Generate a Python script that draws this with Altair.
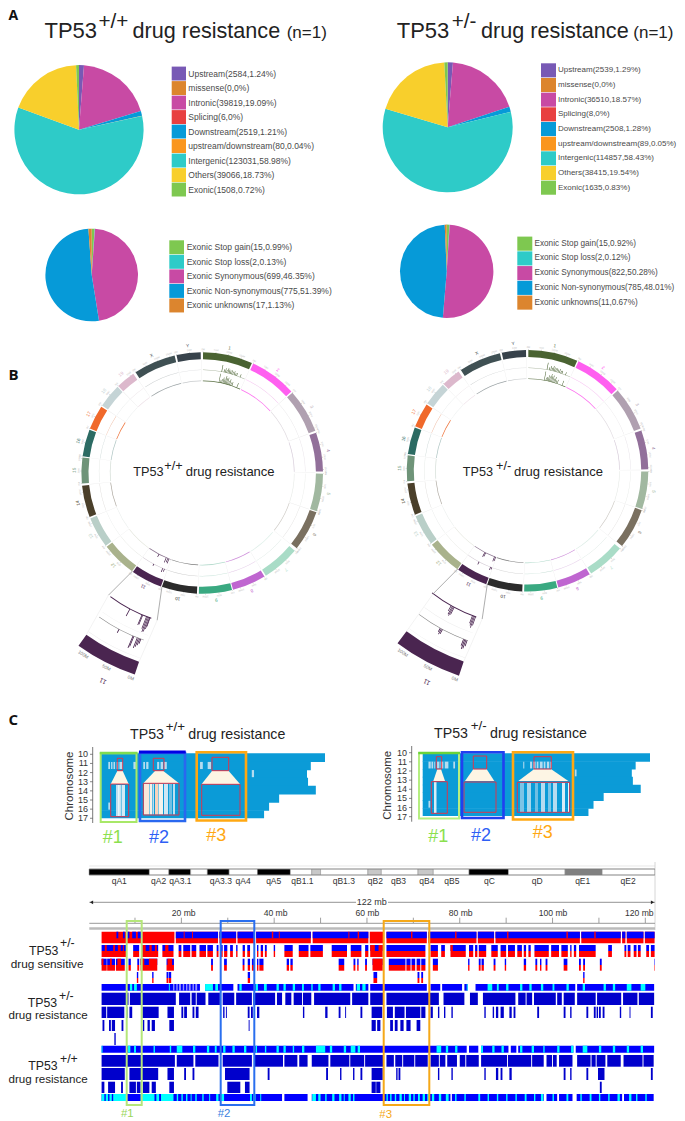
import math
import altair as alt
import pandas as pd

# ---------- panel A values ----------
GENO_NAMES = ["Upstream", "missense", "Intronic", "Splicing", "Downstream",
              "upstream/downstream", "Intergenic", "Others", "Exonic"]
GENO_COLORS = ["#7859b5", "#dc852e", "#c84aa4", "#e84040", "#069ad8",
               "#fa961e", "#2ecbc8", "#f8cf2c", "#7ec850"]
WT_GENO = [2584, 0, 39819, 6, 2519, 80, 123031, 39066, 1508]
WT_GENO_PCT = ["1.24", "0", "19.09", "0", "1.21", "0.04", "58.98", "18.73", "0.72"]
HET_GENO = [2539, 0, 36510, 8, 2508, 89, 114857, 38415, 1635]
HET_GENO_PCT = ["1.29", "0", "18.57", "0", "1.28", "0.05", "58.43", "19.54", "0.83"]

EXO_NAMES = ["Exonic Stop gain", "Exonic Stop loss", "Exonic Synonymous",
             "Exonic Non-synonymous", "Exonic unknowns"]
EXO_COLORS = ["#7ec850", "#2ecbc8", "#c84aa4", "#069ad8", "#dc852e"]
WT_EXO = [15, 2, 699, 775, 17]
WT_EXO_PCT = ["0.99", "0.13", "46.35", "51.39", "1.13"]
HET_EXO = [15, 2, 822, 785, 11]
HET_EXO_PCT = ["0.92", "0.12", "50.28", "48.01", "0.67"]

# ---------- panel B values ----------
CHR_NAMES = [str(i) for i in range(1, 20)] + ["X", "Y"]
CHR_LEN = [195, 182, 160, 157, 152, 150, 145, 130, 125, 131, 122, 120, 120, 125, 104, 98, 95, 91, 61, 171, 92]
CHR_START = [0.4, 25, 48.3, 70.5, 90.3, 109, 130, 149, 165.7, 182.5, 200, 215.5, 233, 248.7, 265, 278, 291.6, 304, 316, 326.5, 347.7]
CHR_END = [24.3, 47.6, 69.5, 89.3, 108.4, 128.5, 148.2, 165.2, 181.6, 199.5, 215, 232.3, 247.9, 264, 277.4, 291, 303.3, 315.5, 325.2, 346.8, 359.3]
CHR_COLORS = ["#4a6332", "#ff5ff0", "#b0a0b0", "#92709a", "#a1b8a0", "#7a7060", "#a9dcc7",
              "#bf66d0", "#3aa981", "#2b2b2b", "#4a2550", "#a9b28c", "#b9cfc8", "#4a3f2a",
              "#6f9479", "#2c6b63", "#f0692b", "#c5d4d6", "#dcb8cc", "#3f5053", "#37424b"]
# arc visibility of the two inner tracks, per chromosome
CHR_INNER_OP = [.9, .9, .3, .3, .15, .3, .3, .7, .35, .6, .6, .2, .15, .4, .25, .35, .9, .1, .35, .5, .25]
CHR_OUTER_OP = [.4, .3, .1, .1, .1, .1, .2, .25, .2, .15, .2, .1, .1, .1, .1, .15, .35, .1, .15, .2, .1]
CHR1_OUT = [(10.9, 103, 110), (12.2, 103, 106), (13, 103, 107.5), (13.7, 103, 106), (14.4, 103, 108), (15.1, 103, 107),
            (15.8, 103, 106.5), (16.5, 103, 107), (17.2, 103, 106), (18, 103, 107), (18.8, 103, 105.5), (19.5, 103, 106), (21.6, 103, 106)]
CHR1_IN = [(10.5, 92, 101), (11.5, 92, 95), (12.2, 92, 96), (13, 92, 98), (13.7, 92, 97), (14.4, 92, 100), (15.1, 92, 98),
           (15.8, 92, 99), (16.5, 92, 96), (17.2, 92, 98), (18, 92, 95), (18.8, 92, 96), (22, 92, 97)]
WT_11_RING = [(208, 92, 95), (203, 92, 97), (202, 92, 96), (201.2, 92, 97), (208, 103, 105), (202.5, 103, 107), (201.5, 103, 106)]
HET_11_RING = [(207.6, 92, 97), (207, 92, 96), (201, 92, 97), (200.3, 92, 96), (208, 103, 106), (201, 103, 106), (200.3, 103, 105)]
WT_11_ZOOM = [(208, 154, 162), (203, 154, 165), (202.7, 154, 164), (201.2, 154, 167), (200.8, 154, 170), (200.4, 154, 169),
              (200, 154, 166), (199.8, 154, 163), (208, 177, 181), (203, 177, 190), (202.7, 177, 188),
              (201.5, 177, 188), (201.1, 177, 186), (200.7, 177, 184), (200.3, 177, 182)]
HET_11_ZOOM = [(209.5, 155, 161), (209, 155, 164), (208.6, 155, 165), (208.2, 155, 163), (200.8, 155, 163), (200.4, 155, 165),
               (200, 155, 167), (199.6, 155, 164), (209, 180, 184), (208.6, 180, 186), (208.2, 180, 185),
               (200.8, 180, 187), (200.4, 180, 190), (200, 180, 189), (199.6, 180, 186)]

# ---------- panel C heat map values ----------
CHROMS = ["10", "11", "12", "13", "14", "15", "16", "17"]
CHROM_MB = [130, 121.8, 119.6, 120.2, 124.7, 103.5, 97.7, 94.8]
WT_STRIPES = [("11", 4.8, 5.8), ("11", 6.4, 7.2), ("11", 7.8, 8.7), ("11", 9.6, 10.6), ("11", 11.2, 13.1), ("11", 19.3, 20.8),
              ("11", 25, 26), ("11", 26.7, 28), ("11", 33, 34.2), ("11", 35, 36.4), ("11", 37, 38.6), ("11", 57.8, 59.4),
              ("11", 62.2, 64.2), ("12", 87.7, 89), ("16", 4.8, 5.8)]
HET_STRIPES = [("11", 3.3, 4.6), ("11", 5, 6), ("11", 6.6, 7.2), ("11", 8.2, 9.6), ("11", 10.2, 11.8), ("11", 12.6, 14.7),
               ("11", 17.5, 18.5), ("11", 57.5, 58.1), ("11", 61.4, 62.6), ("11", 63.2, 64.6), ("11", 65.2, 66.2),
               ("11", 67, 68.6), ("11", 69.2, 70.2), ("11", 71, 72.4), ("11", 73, 73.8), ("12", 87, 88), ("16", 3.3, 4.3)]

# ---------- panel C genome browser values (Mb) ----------
BANDS = [(0.1, 13.1, "#000000"), (13.1, 17.3, "#ffffff"), (17.3, 22, "#000000"), (22, 25.6, "#ffffff"), (25.6, 30.3, "#000000"),
         (30.3, 36.4, "#ffffff"), (36.4, 43.5, "#000000"), (43.5, 48.1, "#ffffff"), (48.1, 50, "#c8c8c8"), (50, 60.2, "#ffffff"),
         (60.2, 63.1, "#c8c8c8"), (63.1, 71, "#ffffff"), (71, 74.3, "#c8c8c8"), (74.3, 82, "#ffffff"), (82, 90.5, "#000000"),
         (90.5, 102.7, "#ffffff"), (102.7, 110.7, "#808080"), (110.7, 122, "#ffffff")]
BAND_LABELS = ["qA1", "qA2", "qA3.1", "qA3.3", "qA4", "qA5", "qB1.1", "qB1.3", "qB2", "qB3", "qB4", "qB5", "qC", "qD", "qE1", "qE2"]
BAND_LABEL_MB = [6.6, 15.1, 19.8, 28.5, 33.3, 39.9, 46.1, 55, 61.8, 66.8, 72.9, 78.3, 86.4, 96.7, 106.5, 116.3]
TICKS_MB = list(range(10, 130, 10))
TICK_LABELS = ["20 mb", "40 mb", "60 mb", "80 mb", "100 mb", "120 mb"]
TICK_LABEL_MB = [20.5, 40.3, 60.1, 80.2, 100.1, 118.7]

S1_RED = [(2.8, 18.5), (18.8, 27.9), (28.2, 31.8), (32.1, 35.8), (36.1, 47.9), (48.3, 60.3), (60.6, 63.7), (64.2, 72.9), (73.2, 83.6),
          (83.9, 87.4), (87.7, 105.9), (106.2, 114.7), (115, 115.7), (116, 119.6), (119.9, 122)]
S1_BLUE = [(6, 6.4), (7.4, 7.8), (8.3, 8.8), (9.4, 10.2), (10.6, 11.4), (18.8, 27.9), (28.2, 31.8), (32.1, 35.8), (36.1, 47.9), (48.3, 60.3),
           (64.2, 72.9), (73.2, 83.6), (83.9, 87.4), (87.7, 105.9), (106.2, 114.7), (115, 115.7), (116, 119.6), (119.9, 122)]
S1_RED_TICKS = [(20.5, 20.7), (22.3, 22.5), (39.5, 39.8), (41, 41.2), (56, 56.2), (58, 58.3), (69.5, 69.8), (79, 79.3), (90.2, 90.5), (103, 103.3), (109, 109.3)]
S2 = [(2.8, 8.1), (9.6, 10.9), (11.4, 15), (15.9, 18.3), (19.4, 20), (20.4, 21.9), (22.2, 23.2), (23.9, 25.3), (25.6, 26.8), (27.6, 28), (28.5, 28.9),
      (29.2, 29.9), (30.5, 31.1), (31.8, 32.1), (33.2, 33.7), (34.2, 34.8), (36.3, 36.6), (37.1, 37.6), (38, 38.4), (39.9, 40.2), (42.2, 44),
      (45.3, 47.4), (47.8, 50.5), (52.4, 55.7), (56.5, 58.8), (59.6, 60.3), (60.7, 63.4), (64.2, 72.6), (73.7, 75.3), (76, 76.8), (78, 81.3),
      (82, 82.9), (83.3, 83.8), (84.1, 85.7), (86.8, 88.2), (88.8, 90), (90.4, 91.9), (92.4, 93.4), (93.8, 94.3), (94.8, 95.3), (96.1, 99.2),
      (99.7, 101.4), (101.9, 103.3), (103.8, 104.1), (104.6, 105.1), (105.7, 109.3), (112, 112.8), (115.5, 115.9), (116.2, 116.8), (117.5, 118.1),
      (118.4, 119), (120.2, 120.8), (121.2, 122)]
S2_RED_TOP = [(3.5, 3.9), (5.3, 5.7), (6.3, 6.9), (7.4, 7.6), (11.6, 12.3), (13.1, 13.6), (14.3, 14.7), (16.5, 17.2), (60.7, 61.7), (62.5, 63.4), (78, 78.5)]
S3 = [(2.8, 3.9), (4, 5.7), (5.9, 7.8), (8.6, 9.1), (10.5, 10.9), (11.2, 14.8), (16.8, 18.4), (26.4, 26.8), (29.2, 29.8), (33.2, 33.6), (34.3, 34.8),
      (35.2, 35.7), (36.3, 36.6), (36.8, 37.7), (42.7, 43.2), (43.5, 44), (53.9, 55.1), (57.1, 57.5), (57.9, 58.2), (59.6, 60), (61.2, 63.4),
      (64.7, 68.3), (68.5, 69.4), (69.6, 70.4), (70.7, 71.5), (71.7, 72.6), (74.2, 75.3), (81.8, 82.1), (84.1, 84.5), (84.7, 85.2), (87.3, 87.7),
      (89.7, 90), (93.8, 94.3), (96.3, 96.7), (97.3, 97.6), (98.5, 98.9), (102.4, 103.2), (105.7, 106.1), (106.6, 107), (110.2, 110.6), (121.9, 122)]
S3_RED_TOP = [(2.8, 3.2), (4.6, 5), (6.2, 7), (11.2, 12), (13, 14.8), (17, 18), (61.2, 63.4)]
S4 = [(10.4, 10.7), (13.7, 14), (16.8, 17.2), (17.3, 17.8), (34.3, 34.8), (61.4, 62.2), (70.9, 71.3), (71.7, 72.1), (106.6, 106.9)]

H1 = [(2.8, 24), (25.1, 31.2), (32.1, 57.1), (57.6, 60.3), (60.7, 72.9), (73.7, 75.8), (76.2, 80.5), (81, 81.7), (83.4, 104.9), (105.3, 121.9)]
H1_CYAN = [(8.9, 9.4), (9.8, 10.4), (17.3, 17.5), (25.1, 26.8), (27.3, 27.9), (32.5, 33), (36, 36.5), (37.8, 38.4), (40.5, 41), (42, 42.5), (44, 44.5),
           (46, 46.4), (48, 48.3), (49.5, 50), (52.6, 53.1), (54, 54.5), (57.8, 58.5), (59, 59.7), (81.5, 81.7), (86, 87), (88, 88.4), (90, 90.5), (93, 93.5),
           (95, 95.5), (97.5, 98), (100, 100.4), (103, 103.5), (106.5, 107), (111, 111.5), (113, 113.5), (116, 117), (119, 120)]
H1_PALE = [(18.2, 18.5), (18.9, 19.2), (19.5, 19.9), (20.3, 20.6), (21, 21.3), (21.6, 22), (22.4, 22.7), (23, 23.4)]
H2 = [(2.8, 8.6), (8.9, 18.8), (19.5, 21.9), (22.2, 23.1), (23.3, 25.2), (25.8, 28.3), (28.9, 31.4), (31.8, 35.2), (35.5, 40.2), (40.6, 41.7),
      (42.4, 43.7), (44.2, 46), (46.2, 48), (48.6, 56.4), (56.8, 60.3), (60.7, 63.5), (64.2, 75.5), (76.5, 81), (82.2, 83.9), (85, 92), (92.6, 94.2),
      (94.4, 95.6), (96, 100.7), (101, 102), (102.4, 104.8), (105.3, 109.3), (109.6, 114.8), (115.2, 118.3), (118.6, 121.9)]
H3 = [(2.8, 3.8), (4, 7.7), (8.1, 8.4), (8.8, 9.4), (11.6, 15.1), (17, 18.4), (20, 20.4), (20.6, 21.2), (22.4, 22.8), (23.1, 23.7), (29, 29.3), (29.6, 29.8),
      (34.3, 34.7), (35, 35.4), (36.3, 36.8), (46.2, 46.5), (51, 51.5), (53.9, 54.3), (55.3, 55.5), (58.6, 59), (61, 63.3), (64.3, 65.6), (66, 68.1),
      (68.4, 71.5), (71.7, 72.6), (73.7, 74.2), (75.3, 75.6), (76.6, 76.9), (78.2, 78.5), (85.3, 85.6), (87.1, 87.4), (87.8, 88.3), (88.8, 89.5),
      (90.7, 91.2), (91.6, 92), (96.7, 97.1), (102.4, 102.8), (103.8, 104.1), (107.3, 107.7), (108.9, 109.3), (109.5, 109.8), (110, 110.4),
      (110.8, 111.2), (114.5, 114.8), (116.6, 116.8), (121.2, 121.6)]
H4 = [(3, 3.4), (4.4, 4.8), (5, 5.7), (7.1, 7.5), (11.7, 12), (12.7, 13.2), (13.6, 14.3), (17.4, 18.4), (34.5, 34.7), (61, 61.9), (62.2, 62.9),
      (65, 65.6), (66, 66.6), (67.2, 67.9), (68.5, 69.4), (70.7, 71.5)]
H5 = [(5.5, 5.9)]

W1 = [(2.8, 81.5), (82, 84), (84.6, 90.5), (91, 92.2), (92.6, 104.5), (105, 121.9)]
W1_CYAN = [(2.8, 3), (8.5, 9), (9.8, 10.2), (14, 14.3), (17.5, 17.8), (19, 20.2), (22.5, 23), (25.5, 26), (27.2, 27.6), (29, 29.5), (31, 31.5), (33.5, 34),
           (36, 36.3), (38, 38.3), (40.5, 41), (42, 42.5), (44, 44.3), (46, 46.5), (49, 51), (52, 52.5), (55, 55.5), (56.5, 57.5), (58, 58.5), (75, 76),
           (77, 77.5), (79, 79.5), (84.6, 85), (87, 87.5), (89, 89.5), (93, 93.5), (95.5, 96), (98, 98.3), (101, 101.5), (104, 104.5), (106.5, 107.5),
           (110, 110.5), (113, 113.5), (116, 116.5), (119, 119.5)]
W2 = [(2.8, 18.6), (19, 22.6), (23, 28), (28.9, 35.2), (35.7, 41.9), (42.2, 45), (45.4, 47.2), (48.1, 51.7), (52.1, 56.2), (56.4, 59.4), (59.6, 63.5),
      (64.2, 65.8), (66.1, 67.6), (67.8, 70.2), (70.4, 73.1), (73.7, 75.5), (75.7, 76.9), (77.3, 79.4), (80, 81.2), (81.4, 84.1), (84.6, 90.2), (90.4, 95.4),
      (95.6, 98.1), (98.7, 99.9), (100.1, 100.9), (101.4, 104.3), (105.3, 108.2), (108.4, 109.3), (109.5, 111.4), (111.8, 114.7), (115.3, 119.4), (119.6, 121.8)]
W3 = [(2.8, 7.8), (8.8, 15), (17, 18.4), (20.6, 21), (22.4, 22.8), (29.4, 34.7), (38.6, 39), (51.2, 51.6), (54.2, 54.5), (57, 57.3), (58.6, 59), (61, 63.4),
      (66.3, 66.6), (66.8, 67.2), (75.3, 75.6), (78.2, 78.5), (85.3, 85.6), (87.8, 88.3), (88.8, 89.2), (90.7, 91.2), (102.4, 102.8), (103.8, 104.1),
      (107.3, 107.7), (109.8, 111.2), (121.2, 121.6)]
W4 = [(2.8, 3.4), (4.2, 5.7), (7, 7.4), (8.8, 10.2), (10.4, 11.2), (11.7, 13.1), (13.6, 14.5), (17.4, 18.4), (29.9, 32.7), (33.7, 34.7), (61, 61.9),
      (62, 62.9), (110.2, 110.6)]
W5 = [(2.8, 41.7), (42.2, 47.2), (48.1, 78), (78.3, 98.1), (98.7, 101), (101.4, 104.3), (105.2, 115), (115.4, 121.8)]
W5_CYAN = [(2.8, 3.4), (3.7, 4.2), (4.5, 5), (5.3, 8.1), (11.2, 14.2), (14.6, 15.2), (15.6, 18.3), (19, 19.3), (20, 20.3), (21, 21.3), (22, 22.2), (23, 23.3),
           (24.5, 24.8), (26, 26.2), (27.5, 28), (28.5, 29.2), (34.8, 35.2), (35.5, 36), (37, 37.2), (48.2, 49), (49.5, 50), (51, 51.3), (52.5, 53), (54, 54.5),
           (55, 55.2), (56, 56.5), (57, 57.3), (64.2, 64.5), (65, 65.3), (66, 66.3), (67, 67.5), (68, 68.2), (69, 69.5), (70, 70.3), (71, 71.4), (72, 72.5),
           (73, 73.4), (74, 74.5), (75.5, 76), (77, 77.6), (79, 79.3), (81, 81.3), (84, 84.4), (86, 86.3), (88, 88.3), (90, 90.3), (92, 92.3), (94, 94.4),
           (96, 96.3), (97.5, 98), (100, 100.3), (103, 103.4), (106, 106.3), (108, 108.4), (110, 110.3), (112, 112.3), (114, 114.5), (116.5, 117), (118, 118.3), (120, 120.3)]

# ---------- layout ----------
XC = alt.Scale(domain=[8, 677], range=[0, 669])
YC = alt.Scale(domain=[8, 1120], range=[0, 1112])
MB = alt.Scale(domain=[0, 122], range=[80.6, 646.6])
FONT = "Liberation Sans"
layers = []


def X(f, scale=XC):
    return alt.X(f, type="quantitative", scale=scale, axis=None)


def Y(f, scale=YC):
    return alt.Y(f, type="quantitative", scale=scale, axis=None)


def rects(rows, xscale=XC):
    df = pd.DataFrame(rows, columns=["x0", "x1", "y0", "y1", "c"])
    layers.append(alt.Chart(df).mark_rect().encode(
        x=X("x0", xscale), x2="x1", y=Y("y0"), y2="y1", color=alt.Color("c:N", scale=None)))


def boxes(rows, w):
    df = pd.DataFrame(rows, columns=["x0", "x1", "y0", "y1", "c"])
    layers.append(alt.Chart(df).mark_rect(fillOpacity=0, strokeWidth=w).encode(
        x=X("x0"), x2="x1", y=Y("y0"), y2="y1", stroke=alt.Stroke("c:N", scale=None)))


def rules(rows):
    df = pd.DataFrame(rows, columns=["x0", "x1", "y0", "y1", "c", "w"])
    layers.append(alt.Chart(df).mark_rule().encode(
        x=X("x0"), x2="x1", y=Y("y0"), y2="y1", color=alt.Color("c:N", scale=None), size=alt.Size("w:Q", scale=None)))


def texts(rows, align="left", baseline="alphabetic", weight="normal", font=FONT, xscale=XC):
    df = pd.DataFrame(rows, columns=["x", "y", "t", "s", "c", "a"])
    layers.append(alt.Chart(df).mark_text(align=align, baseline=baseline, fontWeight=weight, font=font).encode(
        x=X("x", xscale), y=Y("y"), text="t:N", size=alt.Size("s:Q", scale=None),
        color=alt.Color("c:N", scale=None), angle=alt.Angle("a:Q", scale=None)))


def pie(values, names, colors, cx, cy, r):
    df = pd.DataFrame({"name": names, "value": values, "i": range(len(values)), "cx": cx, "cy": cy})
    layers.append(alt.Chart(df).mark_arc(radius=r).encode(
        x=X("cx"), y=Y("cy"),
        theta=alt.Theta("value:Q", stack=True),
        order=alt.Order("i:Q"),
        color=alt.Color("name:N", scale=alt.Scale(domain=names, range=colors), legend=None)))


def pie_legend(names, colors, values, pcts, x0, x1, ytop, step, xt, fs=8.5):
    rects([(x0, x1, ytop + i * step + 0.3, ytop + (i + 1) * step - 0.3, colors[i]) for i in range(len(names))])
    texts([(xt, ytop + (i + .5) * step, f"{names[i]}({values[i]},{pcts[i]}%)", fs, "#4a4a4a", 0) for i in range(len(names))],
          baseline="middle")


def pol(cx, cy, deg, r):
    return cx + r * math.sin(math.radians(deg)), cy - r * math.cos(math.radians(deg))


def arcs(rows):
    df = pd.DataFrame(rows, columns=["cx", "cy", "t0", "t1", "r0", "r1", "c", "op"])
    layers.append(alt.Chart(df).mark_arc().encode(
        x=X("cx"), y=Y("cy"),
        theta=alt.Theta("t0:Q", scale=alt.Scale(domain=[0, 360], range=[0, 2 * math.pi])),
        theta2="t1:Q",
        radius=alt.Radius("r1:Q", scale=alt.Scale(type="linear", domain=[0, 300], range=[0, 300])),
        radius2="r0:Q",
        color=alt.Color("c:N", scale=None),
        opacity=alt.Opacity("op:Q", scale=None)))


# ---------- panel A ----------
pie(WT_GENO, GENO_NAMES, GENO_COLORS, 79, 129.7, 64.6)
pie(WT_EXO, EXO_NAMES, EXO_COLORS, 91.7, 275, 46.3)
pie(HET_GENO, GENO_NAMES, GENO_COLORS, 447.7, 127.3, 65)
pie(HET_EXO, EXO_NAMES, EXO_COLORS, 446.7, 271.3, 46.7)
pie_legend(GENO_NAMES, GENO_COLORS, WT_GENO, WT_GENO_PCT, 171.7, 186, 66.3, 14.5, 188.3)
pie_legend(EXO_NAMES, EXO_COLORS, WT_EXO, WT_EXO_PCT, 169.3, 184, 240, 14.55, 186.7)
pie_legend(GENO_NAMES, GENO_COLORS, HET_GENO, HET_GENO_PCT, 541, 556, 63, 14.67, 558, 8)
pie_legend(EXO_NAMES, EXO_COLORS, HET_EXO, HET_EXO_PCT, 517.3, 532.3, 236.3, 14.73, 534.5, 8.2)


# ---------- panel B ----------
def circos(cx, cy, ring_spikes, zoom_spikes, z_outer, z_band, t_lo, t_hi, zbase1, zbase2):
    base = []
    for i in range(len(CHR_NAMES)):
        a, b = CHR_START[i], CHR_END[i]
        base.append((cx, cy, a, b, 92, 92.3, "#eeeeee", 1))
        base.append((cx, cy, a, b, 103, 103.3, "#eeeeee", 1))
        base.append((cx, cy, b + .2, b + .4, 92, 113, "#ececec", 1))
        base.append((cx, cy, a, b, 91.7, 92.4, CHR_COLORS[i], CHR_INNER_OP[i]))
        base.append((cx, cy, a, b, 102.9, 103.4, CHR_COLORS[i], CHR_OUTER_OP[i]))
        base.append((cx, cy, a, b, 113.7, 120.8, CHR_COLORS[i], 1))
        mb = 0
        while mb <= CHR_LEN[i]:
            t = a + (b - a) * mb / CHR_LEN[i]
            base.append((cx, cy, t - .1, t + .1, 120.8, 121.8, "#aaaaaa", 1))
            mb += 50
    for d, r0, r1 in CHR1_OUT + CHR1_IN:
        base.append((cx, cy, d - .15, d + .15, r0, r1, CHR_COLORS[0], 1))
    for d, r0, r1 in ring_spikes:
        base.append((cx, cy, d - .2, d + .2, r0, r1, CHR_COLORS[10], 1))
    # magnified chromosome 11
    base.append((cx, cy, t_lo, t_hi, z_band[0], z_band[1], CHR_COLORS[10], 1))
    base.append((cx, cy, t_lo, t_hi, 171, 171.4, "#eeeeee", 1))
    base.append((cx, cy, t_lo, t_hi, z_band[0] - 4, z_band[0] - 3.6, "#eeeeee", 1))
    base.append((cx, cy, t_lo + .8, t_hi + 1, zbase1 - .5, zbase1 + .5, CHR_COLORS[10], 1))
    base.append((cx, cy, t_lo + .8, t_hi, zbase2 - .3, zbase2 + .3, "#8a8a8a", 1))
    for d, r0, r1 in zoom_spikes:
        base.append((cx, cy, d - .13, d + .13, r0, r1, CHR_COLORS[10], 1))
    arcs(base)
    # lines joining the ring to the magnified sector
    p = [pol(cx, cy, 215.4, 120.5), pol(cx, cy, 217.5, zbase1), pol(cx, cy, t_hi, z_band[0])]
    q = [pol(cx, cy, 199.5, 120.5), pol(cx, cy, 197, zbase1), pol(cx, cy, t_lo, z_band[0])]
    rules([(p[0][0], p[1][0], p[0][1], p[1][1], "#777777", .6), (q[0][0], q[1][0], q[0][1], q[1][1], "#777777", .6),
           (p[1][0], p[2][0], p[1][1], p[2][1], "#e6e6e6", .5), (q[1][0], q[2][0], q[1][1], q[2][1], "#e6e6e6", .5)])
    # chromosome names and tick labels
    lab, tick = [], []
    for i, n in enumerate(CHR_NAMES):
        a, b = CHR_START[i], CHR_END[i]
        m = (a + b) / 2
        x, y = pol(cx, cy, m, 127.5)
        lab.append((x, y, n, 4.6, CHR_COLORS[i], m))
        mb = 0
        while mb <= CHR_LEN[i]:
            t = a + (b - a) * mb / CHR_LEN[i]
            x, y = pol(cx, cy, t, 123.6)
            tick.append((x, y, f"{mb}M", 2.4, "#bbbbbb", t))
            mb += 50
    texts(lab, align="center", baseline="middle")
    texts(tick, align="center", baseline="middle")
    zt = []
    for mb, s in zip([0, 50, 100], ["0M", "50M", "100M"]):
        t = t_lo + (t_hi - t_lo) * (mb + 5) / 122
        x, y = pol(cx, cy, t, z_band[1] + 5)
        zt.append((x, y, s, 4.6, "#777777", t - 180))
    x, y = pol(cx, cy, 205.5, z_band[1] + 18)
    zt.append((x, y, "11", 6.5, CHR_COLORS[10], 207))
    texts(zt, align="center", baseline="middle")


circos(202.2, 473, WT_11_RING, WT_11_ZOOM, 155, (199, 212.5), 198.5, 215.6, 154, 177)
circos(527.5, 470.8, HET_11_RING, HET_11_ZOOM, 155, (201, 216), 198.5, 217, 155, 180)

# ---------- panel C heat maps ----------
L_MINI = alt.Scale(domain=[0, 130], range=[92, 317])
R_MINI = alt.Scale(domain=[0, 130], range=[414.7, 642])


def mini(scale, ytop, ybot, stripes):
    step = (ybot - ytop) / len(CHROMS)
    idx = {c: i for i, c in enumerate(CHROMS)}
    rows = [(0, CHROM_MB[i], ytop + i * step, ytop + (i + 1) * step + (.6 if i < 7 else 0), "#0b9bd7") for i in range(len(CHROMS))]
    rects(rows, scale)
    rects([(a, b, ytop + idx[c] * step + .5, ytop + (idx[c] + 1) * step - .5, "#b5dcf0") for c, a, b in stripes], scale)


mini(L_MINI, 753.3, 818.3, WT_STRIPES)
mini(R_MINI, 753.3, 816, HET_STRIPES)

# cream funnels of the magnified stretches
FUNNELS = [
    (117.3, 122.7, 771, 110.7, 128.7, 784),
    (155, 163.3, 771, 143.3, 179, 783.3),
    (212, 228.7, 771, 201.7, 240, 784),
    (437.3, 441, 769.3, 433.3, 445, 781),
    (473.3, 486.7, 769.3, 465, 494.3, 781),
    (534, 551.3, 769.3, 518.3, 568.3, 781),
]
fdf = []
for k, (a, b, y0, c, d, y1) in enumerate(FUNNELS):
    fdf += [{"g": k, "x0": a, "x1": b, "y": y0}, {"g": k, "x0": c, "x1": d, "y": y1}]
layers.append(alt.Chart(pd.DataFrame(fdf)).mark_area(orient="horizontal", color="#fdf5e4").encode(
    x=X("x0"), x2="x1", y=Y("y"), detail="g:N"))

ZOOM_STRIPES = [
    (116, 121, 785, 816, "#bfe0f1"), (118, 119.5, 785, 816, "#eaf5fa"), (121.5, 125, 785, 816, "#d4eaf5"),
    (144, 149, 784, 814.5, "#fbe6d8"), (149.5, 152, 784, 814.5, "#f5f0e8"), (152.5, 154, 784, 814.5, "#bcdff0"), (155, 158, 784, 814.5, "#f7d3bc"),
    (158.5, 163, 784, 814.5, "#f4f2ec"), (164, 168, 784, 814.5, "#cfe7f4"), (169, 172, 784, 814.5, "#6fbfe3"), (173, 175, 784, 814.5, "#bfe0f1"),
    (434, 436.5, 782, 813, "#d8ecf6"),
    (520, 524, 783, 812, "#7cc4e6"), (527, 531, 783, 812, "#a5d6ec"), (535, 538, 783, 812, "#6fbfe3"), (541, 545, 783, 812, "#b5dcf0"),
    (548, 551, 783, 812, "#7cc4e6"), (553, 557, 783, 812, "#b5dcf0"), (562, 565, 783, 812, "#d8ecf6"), (568, 569, 783, 812, "#eaf5fa"),
]
rects(ZOOM_STRIPES)
boxes([(117.3, 122.7, 758.3, 770.7, "#ef2b3f"), (110.7, 128.7, 784, 816.7, "#ef2b3f"),
       (153.3, 164, 758.3, 770.7, "#ef2b3f"), (143.3, 179, 783.3, 815, "#ef2b3f"),
       (212, 228.7, 757.3, 770.7, "#ef2b3f"), (201.7, 240, 784.3, 815.3, "#ef2b3f"),
       (436.3, 441.7, 756.7, 769, "#ef2b3f"), (431.3, 447.3, 781.7, 813.3, "#ef2b3f"),
       (473.3, 486.7, 756, 769, "#ef2b3f"), (464, 496, 782, 812.3, "#ef2b3f"),
       (534, 551.3, 756.7, 769, "#ef2b3f"), (517.3, 569.7, 782.3, 812.3, "#ef2b3f")], .9)
boxes([(100.7, 136.5, 753.3, 822, "#a8e868"), (419, 459, 753, 818.5, "#b5ee80")], 2)
boxes([(140, 185, 753, 821, "#2a68ef"), (196.7, 246, 752.3, 820.5, "#ffa812"),
       (462, 503.5, 752.3, 818, "#2040f0"), (513, 573, 752.3, 819.5, "#ffa812")], 2.6)
rules([(99.8, 137.5, 753, 753, "#80dc50", 2.6), (139, 185.7, 752, 752, "#0000e6", 2.8),
       (418.3, 460, 753, 753, "#6ad33a", 2.6)])
# Chromosome axes
rules([(92.7, 92.7, 747, 823, "#555555", .8), (411.7, 411.7, 746, 821.7, "#555555", .8)]
      + [(90, 92.7, 754.3 + i * 9.14, 754.3 + i * 9.14, "#555555", .7) for i in range(8)]
      + [(409, 411.7, 752.7 + i * 9.14, 752.7 + i * 9.14, "#555555", .7) for i in range(8)])
texts([(88, 754.3 + i * 9.14, c, 9, "#333333", 0) for i, c in enumerate(CHROMS)]
      + [(407, 752.7 + i * 9.14, c, 9, "#333333", 0) for i, c in enumerate(CHROMS)], align="right", baseline="middle")
texts([(70, 786, "Chromosome", 11.5, "#333333", 270), (388, 785.3, "Chromosome", 11.5, "#333333", 270)],
      align="center", baseline="middle")
texts([(112.7, 838, "#1", 18, "#8be04e", 0), (159, 838, "#2", 18, "#2f5ff5", 0), (216.3, 836, "#3", 18, "#ffa812", 0),
       (438.3, 836.7, "#1", 18, "#8be04e", 0), (481, 836, "#2", 18, "#2f5ff5", 0), (542.7, 833.3, "#3", 18, "#ffa812", 0)],
      align="center", baseline="middle")

# ---------- panel C genome browser ----------
rules([(89.3, 655, 866, 866, "#d8d8d8", .6), (655, 655, 862, 930, "#cccccc", .8),
       (89.3, 356, 902.3, 902.3, "#888888", .9), (388, 655, 902.3, 902.3, "#888888", .9),
       (89.3, 655, 923.3, 923.3, "#999999", 1), (89.3, 655, 928.5, 928.5, "#bbbbbb", 2.6)])
bdf = pd.DataFrame(BANDS, columns=["a", "b", "c"]).assign(y0=869, y1=875)
layers.append(alt.Chart(bdf).mark_rect(stroke="#888888", strokeWidth=.5).encode(
    x=X("a", MB), x2="b", y=Y("y0"), y2="y1", color=alt.Color("c:N", scale=None)))
rules([(89.3, 655, 869, 869, "#777777", .6), (89.3, 655, 875, 875, "#777777", .6)])
tick_df = pd.DataFrame({"mb": TICKS_MB, "y0": 917.7, "y1": 923})
layers.append(alt.Chart(tick_df).mark_rule(color="#777777", strokeWidth=.7).encode(
    x=X("mb", MB), y=Y("y0"), y2="y1"))
arrow_df = pd.DataFrame({"x": [91.5, 652.5], "y": [902.3, 902.3], "s": ["triangle-left", "triangle-right"]})
layers.append(alt.Chart(arrow_df).mark_point(filled=True, size=14, color="#222222", opacity=1).encode(
    x=X("x"), y=Y("y"), shape=alt.Shape("s:N", scale=None)))
texts([(m, 880.7, b, 8.5, "#333333", 0) for b, m in zip(BAND_LABELS, BAND_LABEL_MB)], align="center", baseline="middle", xscale=MB)
texts([(m, 912.5, t, 8.6, "#333333", 0) for t, m in zip(TICK_LABELS, TICK_LABEL_MB)], align="center", baseline="middle", xscale=MB)
texts([(371.7, 902, "122 mb", 9, "#333333", 0)], align="center", baseline="middle")

BLUE, RED, DK, CY = "#0000ff", "#ff0000", "#0000cc", "#00ffff"


def seg(lst, y0, y1, c):
    return [(a, b, y0, y1, c) for a, b in lst]


tr = []
tr += seg(S1_RED, 931.7, 943.3, RED) + seg(S1_BLUE, 931.7, 938.3, BLUE) + seg(S1_RED_TICKS, 931.7, 938.3, RED)
tr += seg(S2, 945, 951, BLUE) + seg(S2, 951, 957, RED) + seg(S2_RED_TOP, 945, 951, RED)
tr += seg(S3, 958.7, 965, BLUE) + seg(S3, 965, 970.7, RED) + seg(S3_RED_TOP, 958.7, 965, RED)
tr += seg(S4, 972, 978, BLUE) + seg(S4, 978, 983, RED)
tr += seg(H1, 984, 990.7, BLUE) + seg(H1_CYAN, 984, 990.7, CY) + seg(H1_PALE, 984, 990.7, "#8f8fff")
tr += seg(H2, 992.7, 1005, DK) + seg(H3, 1006.7, 1018, DK) + seg(H4, 1020, 1031, DK) + seg(H5, 1033, 1045, "#4444dd")
tr += seg(W1, 1045.7, 1052.7, BLUE) + seg(W1_CYAN, 1045.7, 1052.7, CY)
tr += seg(W2, 1055, 1066.7, DK) + seg(W3, 1068, 1080, DK) + seg(W4, 1081.7, 1093, DK)
tr += seg(W5, 1094, 1101, BLUE) + seg(W5_CYAN, 1094, 1101, CY)
rects(tr, MB)

boxes([(126.7, 141.7, 921, 1105, "#b5e67a"), (220.7, 254.3, 921, 1105, "#2a6fef"), (383.7, 429.3, 921, 1105, "#f5a818")], 2)
texts([(127.3, 1114, "#1", 11.4, "#9ad65a", 0), (224, 1114, "#2", 11.4, "#3a7fe0", 0), (385.7, 1115, "#3", 11.4, "#f5a818", 0)],
      align="center", baseline="middle")

# ---------- headings ----------
INK = "#222222"
texts([
    (8.5, 20, "A", 14, "#111111", 0), (8.5, 380, "B", 15, "#111111", 0), (8.5, 725, "C", 15, "#111111", 0)],
    weight="bold", font="Open Sans")
texts([
    (44.5, 38.3, "TP53", 22, INK, 0), (98.5, 28, "+/+", 20.7, INK, 0), (132.5, 38.3, "drug resistance", 21.6, INK, 0), (286.7, 38.3, "(n=1)", 17, INK, 0),
    (396.7, 38.3, "TP53", 22, INK, 0), (451.7, 28, "+/-", 20.7, INK, 0), (481, 38.3, "drug resistance", 21.6, INK, 0), (633.3, 37.5, "(n=1)", 17, INK, 0),
    (133.3, 476, "TP53", 12.7, INK, 0), (164.3, 470, "+/+", 12.7, INK, 0), (185.7, 476, "drug resistance", 13, INK, 0),
    (462.7, 476, "TP53", 12.7, INK, 0), (496, 470, "+/-", 12.7, INK, 0), (514, 476, "drug resistance", 13, INK, 0),
    (130, 739, "TP53", 14.2, INK, 0), (165.7, 730.7, "+/+", 13.4, INK, 0), (188.3, 739, "drug resistance", 14.2, INK, 0),
    (434, 737.7, "TP53", 14.2, INK, 0), (470.7, 730, "+/-", 13.4, INK, 0), (490, 737.7, "drug resistance", 14.2, INK, 0),
    (29, 955, "TP53", 12.3, INK, 0), (60, 947.3, "+/-", 12.3, INK, 0), (10.7, 968.3, "drug sensitive", 11.8, INK, 0),
    (27.7, 1006.7, "TP53", 12.3, INK, 0), (59, 1000, "+/-", 12.3, INK, 0), (8.5, 1019, "drug resistance", 11.6, INK, 0),
    (28.3, 1070, "TP53", 12.3, INK, 0), (60, 1063, "+/+", 12.3, INK, 0), (8.5, 1083.3, "drug resistance", 11.6, INK, 0),
])

res = {c: "independent" for c in ["x", "y", "theta", "radius", "color"]}
chart = alt.layer(*layers).resolve_scale(**res).properties(
    width=669, height=1112, padding=0,
    autosize=alt.AutoSizeParams(type="none"),
    background="#ffffff",
).configure_view(stroke=None)

chart.save("out.html", embed_options={"renderer": "svg", "actions": False})
